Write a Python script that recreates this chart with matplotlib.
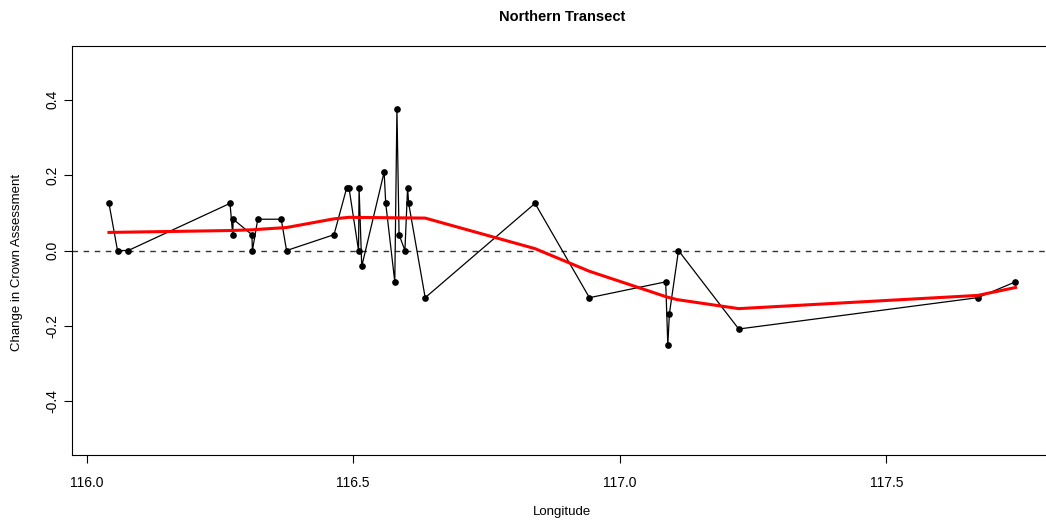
import numpy as np
import matplotlib
matplotlib.use('Agg')
import matplotlib.pyplot as plt

plt.rcParams.update({'font.family': ['Liberation Sans', 'DejaVu Sans'], 'font.size': 10})

# observed change per tree, ordered by longitude
longitude = [116.042, 116.058, 116.078, 116.269, 116.274, 116.275, 116.310, 116.311,
             116.321, 116.365, 116.375, 116.464, 116.488, 116.492, 116.510, 116.511,
             116.516, 116.558, 116.561, 116.578, 116.582, 116.586, 116.597, 116.602,
             116.604, 116.635, 116.841, 116.943, 117.086, 117.090, 117.093, 117.110,
             117.223, 117.671, 117.742]
change = [0.125, 0.0, 0.0, 0.125, 0.042, 0.083, 0.042, 0.0,
          0.083, 0.083, 0.0, 0.042, 0.167, 0.167, 0.0, 0.167,
          -0.042, 0.208, 0.125, -0.083, 0.375, 0.042, 0.0, 0.167,
          0.125, -0.125, 0.125, -0.125, -0.083, -0.25, -0.167, 0.0,
          -0.208, -0.125, -0.083]

# smoothed trend (lowess)
smooth_lon = [116.042, 116.269, 116.310, 116.375, 116.464, 116.492, 116.635,
              116.841, 116.943, 117.088, 117.107, 117.223, 117.671, 117.742]
smooth_val = [0.048, 0.053, 0.055, 0.061, 0.084, 0.088, 0.086,
              0.005, -0.055, -0.123, -0.130, -0.154, -0.119, -0.098]

fig = plt.figure(figsize=(10.46, 5.25), dpi=100)
ax = fig.add_axes([0.0685, 0.1333, 0.937, 0.779])

ax.axhline(0, color='#333333', lw=1.0, ls=(0, (4, 4)), zorder=1)
ax.plot(longitude, change, '-', color='black', lw=0.9, zorder=2)
ax.plot(longitude, change, 'o', color='black', ms=3.8, zorder=3)
ax.plot(smooth_lon, smooth_val, '-', color='#ff0000', lw=2.2, zorder=4)

ax.set_xlim(115.972, 117.81)
ax.set_ylim(-0.542, 0.542)
ax.set_xticks([116.0, 116.5, 117.0, 117.5])
ax.set_xticklabels(['116.0', '116.5', '117.0', '117.5'])
ax.set_yticks([-0.4, -0.2, 0.0, 0.2, 0.4])
ax.set_yticklabels(['-0.4', '-0.2', '0.0', '0.2', '0.4'])
ax.tick_params(axis='x', length=6, width=0.8, pad=9)
ax.tick_params(axis='y', length=6, width=0.8, pad=3)
for lab in ax.get_yticklabels():
    lab.set_rotation(90)
    lab.set_va('center')
for sp in ax.spines.values():
    sp.set_linewidth(0.8)

fig.text(0.537, 0.968, 'Northern Transect', ha='center', va='center', fontsize=10.5, fontweight='bold')
fig.text(0.537, 0.025, 'Longitude', ha='center', va='center', fontsize=9.5)
fig.text(0.016, 0.5, 'Change in Crown Assessment', ha='center', va='center', rotation=90, fontsize=9.5)

fig.savefig('out.png', dpi=100)
print('saved')
